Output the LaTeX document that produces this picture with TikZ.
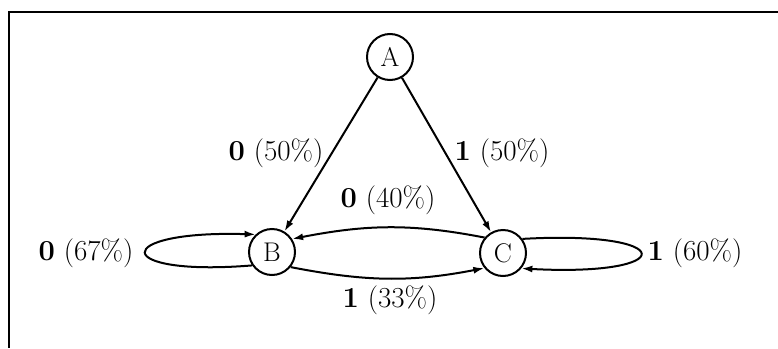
\documentclass[tikz,border=0pt]{standalone}
\usetikzlibrary{arrows.meta}
\begin{document}
\begin{tikzpicture}[x=1pt,y=-1pt,
  state/.style={circle,draw,line width=2pt,minimum size=46pt,inner sep=0pt,font=\fontsize{27}{30}\selectfont},
  lbl/.style={inner sep=0pt,font=\fontsize{29}{32}\selectfont},
  arr/.style={line width=2pt,-{Latex[length=11pt,width=7pt]}}]
\useasboundingbox (0,0) rectangle (778,348);
\draw[line width=2.4pt] (778,12) -- (9,12) -- (9,348);
\node[state] (A) at (390,57) {A};
\node[state] (B) at (272,252) {B};
\node[state] (C) at (503,253) {C};
\draw[arr] (A) -- (B);
\draw[arr] (A) -- (C);
\draw[arr] (C.140) to[out=169,in=11] (B.33);
\draw[arr] (B.-39) to[out=-11,in=191] (C.-141);
\draw[arr] (B.214) .. controls (110,277) and (110,230) .. (B.133);
\draw[arr] (C.36) .. controls (680,230) and (680,277) .. (C.-40);
\node[lbl] (l1) at (276,153) {\textbf{0} (50\%)};
\node[lbl] (l2) at (502,153) {\textbf{1} (50\%)};
\node[lbl] (l3) at (388,200) {\textbf{0} (40\%)};
\node[lbl] (l4) at (390,300) {\textbf{1} (33\%)};
\node[lbl] (l5) at (86,253) {\textbf{0} (67\%)};
\node[lbl] (l6) at (695,253) {\textbf{1} (60\%)};
\end{tikzpicture}
\end{document}
